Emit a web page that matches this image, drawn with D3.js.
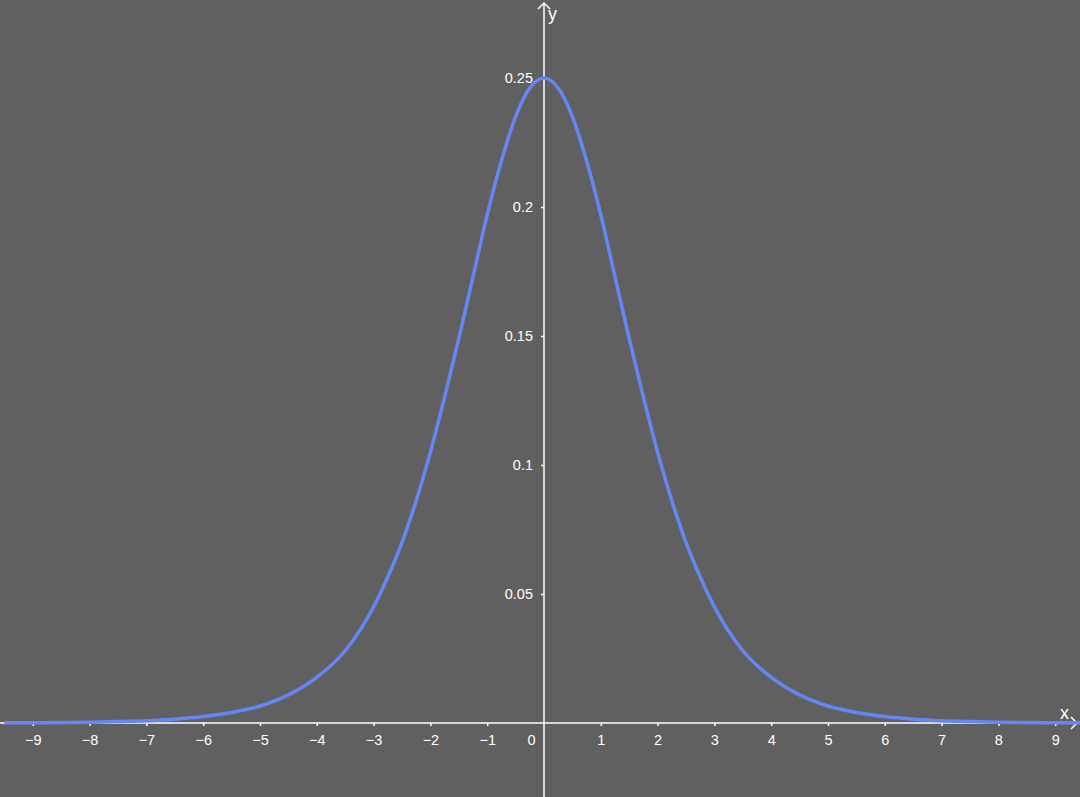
<!DOCTYPE html>
<meta charset="utf-8">
<style>
body { margin: 0; background: #606060; }
svg { display: block; }
.tick text { fill: #fff; font-family: "Liberation Sans", Arial, sans-serif; font-size: 14.5px; }
.tick line { stroke: #fff; stroke-width: 1.5px; }
.axisline { stroke: #fff; stroke-width: 1.5px; fill: none; }
.curve { fill: none; stroke: #6487f4; stroke-width: 3.5px; stroke-linejoin: round; }
.lbl { fill: #fff; font-family: "Liberation Sans", Arial, sans-serif; font-size: 18px; }
</style>
<body>
<script src="https://d3js.org/d3.v7.min.js"></script>
<script>

// values (x, density)
var xs = [-9.5, -9, -8.5, -8, -7.5, -7, -6.5, -6, -5.5, -5, -4.5, -4, -3.5, -3, -2.75, -2.5, -2.25, -2, -1.75, -1.5, -1.25, -1, -0.75, -0.5, -0.25,
          0, 0.25, 0.5, 0.75, 1, 1.25, 1.5, 1.75, 2, 2.25, 2.5, 2.75, 3, 3.5, 4, 4.5, 5, 5.5, 6, 6.5, 7, 7.5, 8, 8.5, 9, 9.5];
var ys = [0.0001, 0.0001, 0.0002, 0.0003, 0.0006, 0.0009, 0.0015, 0.0025, 0.0041, 0.0066, 0.0109, 0.0177, 0.028, 0.045, 0.0566, 0.070, 0.0862, 0.105, 0.1263, 0.149, 0.1729, 0.197, 0.2178, 0.235, 0.2461,
          0.250, 0.2461, 0.235, 0.2178, 0.197, 0.1729, 0.149, 0.1263, 0.105, 0.0862, 0.070, 0.0566, 0.045, 0.028, 0.0177, 0.0109, 0.0066, 0.0041, 0.0025, 0.0015, 0.0009, 0.0006, 0.0003, 0.0002, 0.0001, 0.0001];
var xTicks = [-9, -8, -7, -6, -5, -4, -3, -2, -1, 0, 1, 2, 3, 4, 5, 6, 7, 8, 9];
var yTicks = [0.05, 0.1, 0.15, 0.2, 0.25];

var width = 1080, height = 797;

// origin at (544, 723), 56.8px per x unit, 2580px per y unit
var x = d3.scaleLinear().domain([-544 / 56.8, (width - 544) / 56.8]).range([0, width]);
var y = d3.scaleLinear().domain([-(height - 723) / 2580, 723 / 2580]).range([height, 0]);

var svg = d3.select("body").append("svg")
    .attr("width", width)
    .attr("height", height);

var data = xs.map(function(d, i) { return {x: d, y: ys[i]}; });

// x axis
var xAxis = svg.append("g")
    .attr("transform", "translate(0," + y(0) + ")")
    .call(d3.axisBottom(x).tickValues(xTicks).tickSize(3).tickPadding(9)
      .tickFormat(function(d) { return d3.format("")(d); }));
xAxis.select(".domain").remove();
xAxis.selectAll(".tick").filter(function(d) { return d === 0; }).select("text").attr("x", -13);
xAxis.selectAll(".tick").filter(function(d) { return d === 0; }).select("line").remove();

// y axis
var yAxis = svg.append("g")
    .attr("transform", "translate(" + x(0) + ",0)")
    .call(d3.axisLeft(y).tickValues(yTicks).tickSize(3).tickPadding(8)
      .tickFormat(function(d) { return String(d); }));
yAxis.select(".domain").remove();

// axis lines with open arrows
svg.append("line").attr("class", "axisline")
    .attr("x1", 0).attr("x2", width - 3).attr("y1", y(0)).attr("y2", y(0));
svg.append("path").attr("class", "axisline")
    .attr("d", "M" + (width - 9) + "," + (y(0) - 6) + "L" + (width - 3) + "," + y(0) + "L" + (width - 9) + "," + (y(0) + 6));
svg.append("line").attr("class", "axisline")
    .attr("x1", x(0)).attr("x2", x(0)).attr("y1", 3).attr("y2", height);
svg.append("path").attr("class", "axisline")
    .attr("d", "M" + (x(0) - 6) + ",9L" + x(0) + ",3L" + (x(0) + 6) + ",9");

svg.append("text").attr("class", "lbl").attr("x", x(0) + 4).attr("y", 20).text("y");
svg.append("text").attr("class", "lbl").attr("x", width - 20).attr("y", y(0) - 4).text("x");

// the curve
var line = d3.line()
    .x(function(d) { return x(d.x); })
    .y(function(d) { return y(d.y); })
    .curve(d3.curveMonotoneX);

svg.append("path")
    .datum(data)
    .attr("class", "curve")
    .attr("d", line);

</script>
</body>
